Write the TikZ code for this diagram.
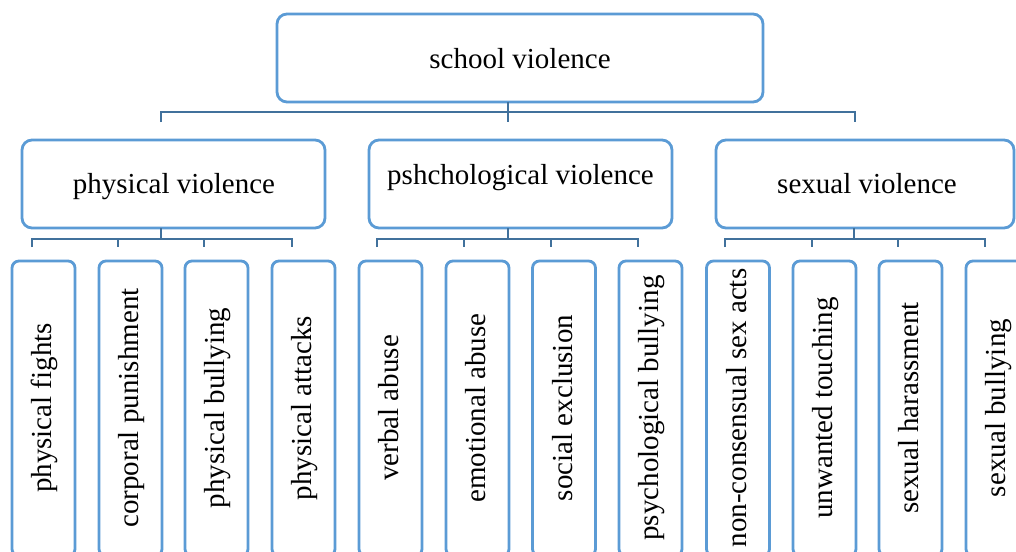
\documentclass[tikz,border=0pt]{standalone}
\usepackage{fontspec}
\setmainfont{Liberation Serif}
\definecolor{boxblue}{RGB}{91,155,213}
\definecolor{connblue}{RGB}{65,113,156}
\begin{document}
\begin{tikzpicture}[x=1pt,y=-1pt,
  every node/.style={font=\fontsize{29}{34}\selectfont, text=black, inner sep=0pt, outer sep=0pt},
  topbox/.style={draw=boxblue, line width=2.8pt, rounded corners=10pt, fill=white, minimum width=486pt, minimum height=88pt},
  midbox/.style={draw=boxblue, line width=2.8pt, rounded corners=10pt, fill=white, minimum height=88pt},
  leafbox/.style={draw=boxblue, line width=2.8pt, rounded corners=7pt, fill=white, minimum width=63pt, minimum height=295pt},
  lbl/.style={anchor=base},
  leaftext/.style={rotate=90, anchor=base},
  conn/.style={draw=connblue, line width=2.8pt}
]
\fill[white] (0,0) rectangle (1016,551);
\useasboundingbox (0,0) rectangle (1016,551);
\clip (0,0) rectangle (1016,551);

% top
\node[topbox] (top) at (520,58) {};
\node[lbl] (topt) at (520,68) {school violence};

% level 2
\node[midbox, minimum width=303pt] (pv) at (173.5,184) {};
\node[lbl] (pvt) at (174,193) {physical violence};
\node[midbox, minimum width=303pt] (psy) at (520.5,184) {};
\node[lbl] (psyt) at (520.5,184) {pshchological violence};
\node[midbox, minimum width=298pt] (sv) at (865,184) {};
\node[lbl] (svt) at (867,193) {sexual violence};

% leaves
\foreach \n/\x/\t in {l1/43.5/physical fights, l2/130.5/corporal punishment, l3/216.5/physical bullying, l4/303.5/physical attacks,
                       l5/390.5/verbal abuse, l6/477.5/emotional abuse, l7/564/social exclusion, l8/650.5/psychological bullying,
                       l9/738/non-consensual sex acts, l10/824.5/unwanted touching, l11/910.5/sexual harassment, l12/997.5/sexual bullying}
{
  \node[leafbox] (\n) at (\x,408.5) {};
  \node[leaftext] (\n t) at (\x+8,408) {\t};
}

% connectors level 1
\coordinate (j0) at (508,112);
\coordinate (d1) at (161,122);
\coordinate (d2) at (508,122);
\coordinate (d3) at (855,122);
\draw[conn] ([xshift=-12pt]top.south) -- (d2);
\draw[conn] (d1) -- (d1 |- j0) -- (d3 |- j0) -- (d3);

% connectors level 2
\foreach \p/\v/\a/\b/\c/\d in {pv/161/32/118/204/292, psy/508/377/464/551/638, sv/854/725/812/898/985}
{
  \draw[conn] (\p.south -| \v,0) -- (\v,239);
  \draw[conn] (\a,247) -- (\a,239) -- (\d,239) -- (\d,247);
  \draw[conn] (\b,239) -- (\b,247);
  \draw[conn] (\c,239) -- (\c,247);
}
\end{tikzpicture}
\end{document}
